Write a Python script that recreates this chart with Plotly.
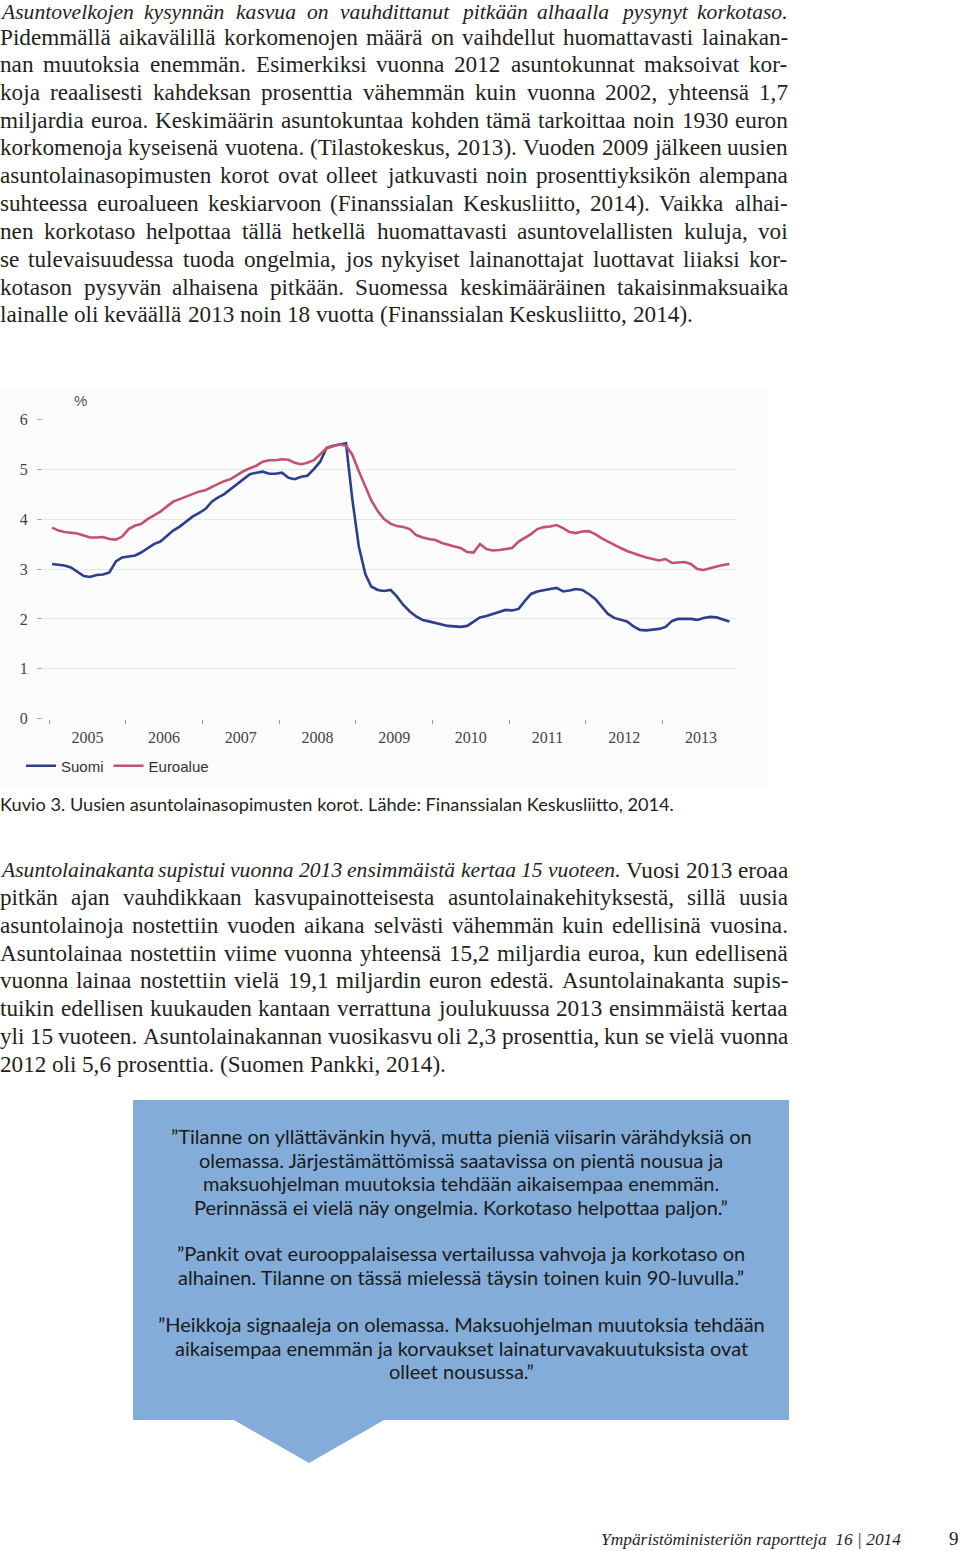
import plotly.graph_objects as go

W, H = 960, 1551

# ---------------- data ----------------
start_year, start_month, n_months = 2005, 1, 107
dates = []
for i in range(n_months):
    y = start_year + (start_month - 1 + i) // 12
    m = (start_month - 1 + i) % 12 + 1
    dates.append(f"{y}-{m:02d}-15")

suomi = [
    3.10, 3.09, 3.07, 3.03, 2.95, 2.86, 2.84, 2.88, 2.89, 2.93, 3.15, 3.23,
    3.25, 3.27, 3.33, 3.42, 3.50, 3.55, 3.65, 3.77, 3.85, 3.95, 4.05, 4.12,
    4.20, 4.35, 4.43, 4.50, 4.60, 4.70, 4.80, 4.90, 4.93, 4.95, 4.91, 4.91,
    4.93, 4.83, 4.80, 4.85, 4.87, 5.00, 5.15, 5.43, 5.47, 5.50, 5.52, 4.40,
    3.45, 2.90, 2.65, 2.58, 2.56, 2.58, 2.45, 2.28, 2.15, 2.05, 1.98, 1.95,
    1.92, 1.90, 1.86, 1.85, 1.84, 1.86, 1.95, 2.03, 2.06, 2.10, 2.15, 2.18,
    2.17, 2.20, 2.35, 2.50, 2.55, 2.58, 2.60, 2.62, 2.55, 2.57, 2.60, 2.58,
    2.50, 2.40, 2.25, 2.10, 2.02, 1.98, 1.95, 1.85, 1.78, 1.77, 1.78, 1.80,
    1.84, 1.96, 2.00, 2.00, 2.00, 1.98, 2.02, 2.04, 2.03, 1.99, 1.95,
]
euroalue = [
    3.83, 3.77, 3.74, 3.73, 3.71, 3.67, 3.63, 3.63, 3.64, 3.60, 3.59, 3.65,
    3.80, 3.87, 3.90, 4.00, 4.08, 4.15, 4.25, 4.35, 4.40, 4.45, 4.50, 4.55,
    4.58, 4.65, 4.70, 4.76, 4.80, 4.88, 4.96, 5.02, 5.07, 5.15, 5.18, 5.18,
    5.20, 5.19, 5.13, 5.10, 5.13, 5.18, 5.30, 5.42, 5.46, 5.50, 5.47, 5.29,
    4.96, 4.64, 4.38, 4.16, 4.00, 3.91, 3.86, 3.84, 3.80, 3.68, 3.63, 3.60,
    3.58, 3.52, 3.48, 3.45, 3.42, 3.34, 3.33, 3.50, 3.40, 3.37, 3.38, 3.40,
    3.42, 3.55, 3.62, 3.70, 3.80, 3.84, 3.85, 3.88, 3.82, 3.74, 3.72, 3.75,
    3.76, 3.70, 3.62, 3.55, 3.48, 3.42, 3.36, 3.31, 3.27, 3.23, 3.20, 3.17,
    3.20, 3.12, 3.13, 3.14, 3.10, 3.00, 2.98, 3.02, 3.05, 3.08, 3.10,
]
series_names = ["Suomi", "Euroalue"]
y_ticks = [0, 1, 2, 3, 4, 5, 6]

para1 = [
    "Asuntovelkojen kysynnän kasvua on vauhdittanut pitkään alhaalla pysynyt korkotaso.",
    "Pidemmällä aikavälillä korkomenojen määrä on vaihdellut huomattavasti lainakan-",
    "nan muutoksia enemmän. Esimerkiksi vuonna 2012 asuntokunnat maksoivat kor-",
    "koja reaalisesti kahdeksan prosenttia vähemmän kuin vuonna 2002, yhteensä 1,7",
    "miljardia euroa. Keskimäärin asuntokuntaa kohden tämä tarkoittaa noin 1930 euron",
    "korkomenoja kyseisenä vuotena. (Tilastokeskus, 2013). Vuoden 2009 jälkeen uusien",
    "asuntolainasopimusten korot ovat olleet jatkuvasti noin prosenttiyksikön alempana",
    "suhteessa euroalueen keskiarvoon (Finanssialan Keskusliitto, 2014). Vaikka alhai-",
    "nen korkotaso helpottaa tällä hetkellä huomattavasti asuntovelallisten kuluja, voi",
    "se tulevaisuudessa tuoda ongelmia, jos nykyiset lainanottajat luottavat liiaksi kor-",
    "kotason pysyvän alhaisena pitkään. Suomessa keskimääräinen takaisinmaksuaika",
    "lainalle oli keväällä 2013 noin 18 vuotta (Finanssialan Keskusliitto, 2014).",
]
para1_y = [12.5, 37, 64, 92, 120, 147, 175, 203, 231, 259, 287, 314]
para1_italic_words = {0: 99}

caption = "Kuvio 3. Uusien asuntolainasopimusten korot. Lähde: Finanssialan Keskusliitto, 2014."

para2 = [
    "Asuntolainakanta supistui vuonna 2013 ensimmäistä kertaa 15 vuoteen. Vuosi 2013 eroaa",
    "pitkän ajan vauhdikkaan kasvupainotteisesta asuntolainakehityksestä, sillä uusia",
    "asuntolainoja nostettiin vuoden aikana selvästi vähemmän kuin edellisinä vuosina.",
    "Asuntolainaa nostettiin viime vuonna yhteensä 15,2 miljardia euroa, kun edellisenä",
    "vuonna lainaa nostettiin vielä 19,1 miljardin euron edestä. Asuntolainakanta supis-",
    "tuikin edellisen kuukauden kantaan verrattuna joulukuussa 2013 ensimmäistä kertaa",
    "yli 15 vuoteen. Asuntolainakannan vuosikasvu oli 2,3 prosenttia, kun se vielä vuonna",
    "2012 oli 5,6 prosenttia. (Suomen Pankki, 2014).",
]
para2_y = [870, 897, 925, 953, 980, 1008, 1036, 1064]
para2_italic_words = {0: 8}

quote_lines = [
    "”Tilanne on yllättävänkin hyvä, mutta pieniä viisarin värähdyksiä on",
    "olemassa. Järjestämättömissä saatavissa on pientä nousua ja",
    "maksuohjelman muutoksia tehdään aikaisempaa enemmän.",
    "Perinnässä ei vielä näy ongelmia. Korkotaso helpottaa paljon.”",
    "”Pankit ovat eurooppalaisessa vertailussa vahvoja ja korkotaso on",
    "alhainen. Tilanne on tässä mielessä täysin toinen kuin 90-luvulla.”",
    "”Heikkoja signaaleja on olemassa. Maksuohjelman muutoksia tehdään",
    "aikaisempaa enemmän ja korvaukset lainaturvavakuutuksista ovat",
    "olleet nousussa.”",
]
quote_y = [1136, 1160, 1183, 1207, 1253, 1277, 1324, 1348, 1371]

footer_text = "<i>Ympäristöministeriön raportteja\u00a0\u00a016 | 2014</i>"
page_number = "9"

# ---------------- text metrics (Liberation Serif = Times metrics) ----------------
REG = dict(zip("abcdefghijklmnopqrstuvwxyz",
               [444, 500, 444, 500, 444, 333, 500, 500, 278, 278, 500, 278, 778,
                500, 500, 500, 500, 333, 389, 278, 500, 500, 722, 500, 500, 444]))
REG.update(zip("ABCDEFGHIJKLMNOPQRSTUVWXYZ",
               [722, 667, 667, 722, 611, 556, 722, 722, 333, 389, 722, 611, 889,
                722, 722, 556, 722, 667, 556, 611, 722, 722, 944, 722, 722, 611]))
ITA = dict(zip("abcdefghijklmnopqrstuvwxyz",
               [500, 500, 444, 500, 444, 278, 500, 500, 278, 278, 444, 278, 722,
                500, 500, 500, 500, 389, 389, 278, 500, 444, 667, 444, 444, 389]))
ITA.update(zip("ABCDEFGHIJKLMNOPQRSTUVWXYZ",
               [611, 611, 667, 722, 611, 611, 722, 722, 333, 444, 667, 556, 833,
                667, 722, 611, 722, 611, 500, 556, 722, 611, 833, 611, 556, 556]))
for d in (REG, ITA):
    d.update({"ä": d["a"], "ö": d["o"], "Ä": d["A"], "Ö": d["O"]})
    d.update({c: 500 for c in "0123456789"})
    d.update({".": 250, ",": 250, "(": 333, ")": 333, "-": 333, " ": 250})
REG[":"] = 278
ITA[":"] = 333

SERIF = "Liberation Serif"
SANS = "Lato"
TEXT_COLOR = "#231f20"
REG_SIZE = 23.2
ITA_SIZE = 21.6
LINE_RIGHT = 788.0
PAD = 0.0


def px(x):
    return x / W


def py(y):
    return 1 - y / H


def word_width(word, italic):
    table = ITA if italic else REG
    size = ITA_SIZE if italic else REG_SIZE
    return sum(table.get(c, 500) for c in word) * size / 1000.0


def text_ann(text, x, y, size, family, color=TEXT_COLOR, xanchor="left"):
    return dict(text=text, x=px(x), y=py(y), xref="paper", yref="paper",
                xanchor=xanchor, yanchor="middle", showarrow=False,
                borderpad=0, borderwidth=0,
                font=dict(family=family, size=size, color=color))


def line_annotations(line, yc, n_italic, justify):
    words = line.split(" ")
    styles = [i < n_italic for i in range(len(words))]
    widths = [word_width(w, s) for w, s in zip(words, styles)]
    if justify and len(words) > 1:
        gap = (LINE_RIGHT - sum(widths)) / (len(words) - 1)
    else:
        gap = None
    out = []
    x = 0.0
    for k, (w, s, wd) in enumerate(zip(words, styles, widths)):
        txt = f"<i>{w}</i>" if s else w
        out.append(text_ann(txt, x - PAD, yc, ITA_SIZE if s else REG_SIZE, SERIF))
        if gap is None:
            nxt_italic = styles[k + 1] if k + 1 < len(words) else s
            sp = 250 * (ITA_SIZE if nxt_italic and s else REG_SIZE) / 1000.0
            x += wd + sp
        else:
            x += wd + gap
    return out


fig = go.Figure()
fig.add_trace(go.Scatter(x=dates, y=suomi, name=series_names[0], mode="lines",
                         line=dict(color="#2b3f8e", width=2.6)))
fig.add_trace(go.Scatter(x=dates, y=euroalue, name=series_names[1], mode="lines",
                         line=dict(color="#c5506f", width=2.6)))

annotations = []
for i, (t, y) in enumerate(zip(para1, para1_y)):
    annotations += line_annotations(t, y, para1_italic_words.get(i, 0), i < len(para1) - 1)
annotations.append(text_ann(caption, 0, 804, 18.2, SANS))
for i, (t, y) in enumerate(zip(para2, para2_y)):
    annotations += line_annotations(t, y, para2_italic_words.get(i, 0), i < len(para2) - 1)
for t, y in zip(quote_lines, quote_y):
    annotations.append(text_ann(t, 461, y, 20, SANS, color="#1a1a1a", xanchor="center"))
annotations.append(text_ann(footer_text, 601, 1539, 17.4, SERIF))
annotations.append(text_ann(page_number, 954, 1538, 19, SERIF, xanchor="center"))
annotations.append(text_ann("%", 80, 401, 15, "Liberation Sans", color="#555555", xanchor="center"))

shapes = [
    dict(type="rect", xref="paper", yref="paper", x0=px(0), x1=px(768), y0=py(786), y1=py(386),
         fillcolor="#fcfcfc", line=dict(width=0), layer="below"),
    dict(type="rect", xref="paper", yref="paper", x0=px(133), x1=px(789), y0=py(1420), y1=py(1100),
         fillcolor="#84acd8", line=dict(width=0), layer="below"),
    dict(type="path", xref="paper", yref="paper",
         path=f"M {px(233)} {py(1419.5)} L {px(309)} {py(1463)} L {px(385)} {py(1419.5)} Z",
         fillcolor="#84acd8", line=dict(width=0), layer="below"),
]

fig.update_layout(
    width=W, height=H,
    margin=dict(l=0, r=0, t=0, b=0, pad=0, autoexpand=False),
    paper_bgcolor="white",
    plot_bgcolor="rgba(0,0,0,0)",
    showlegend=True,
    legend=dict(orientation="h", x=px(21), y=py(766), xanchor="left", yanchor="middle",
                font=dict(family="Liberation Sans", size=15, color="#333333"),
                bgcolor="rgba(0,0,0,0)", itemwidth=30, tracegroupgap=0),
    annotations=annotations,
    shapes=shapes,
    xaxis=dict(
        domain=[px(43), px(737)],
        type="date",
        range=["2004-12-03", "2013-12-21"],
        tickmode="linear", tick0="2005-01-01", dtick="M12",
        ticklabelmode="period", tickformat="%Y",
        ticks="outside", ticklen=4, tickwidth=1, tickcolor="#999999",
        showgrid=False, zeroline=False, showline=False, automargin=False,
        tickfont=dict(family=SERIF, size=16, color="#444444"),
    ),
    yaxis=dict(
        domain=[py(718.7), py(419.3)],
        range=[0, 6],
        tickmode="array", tickvals=y_ticks,
        ticks="outside", ticklen=5, tickwidth=1, tickcolor="#aaaaaa",
        showgrid=True, gridcolor="#e6e6e6", gridwidth=1,
        zeroline=False, showline=False, automargin=False,
        ticklabelstandoff=6,
        tickfont=dict(family=SERIF, size=16, color="#444444"),
    ),
)

POST = (
    "var de=document.documentElement, b=document.body;"
    "de.style.margin='0';de.style.padding='0';de.style.overflow='hidden';de.style.height='1551px';"
    "b.style.margin='0';b.style.padding='0';b.style.overflow='hidden';b.style.height='1551px';"
    "var gd=document.getElementsByClassName('plotly-graph-div')[0];"
    "gd.style.position='absolute';gd.style.left='0px';gd.style.top='0px';"
)

fig.write_html("out.html", config={"displayModeBar": False}, post_script=POST)
